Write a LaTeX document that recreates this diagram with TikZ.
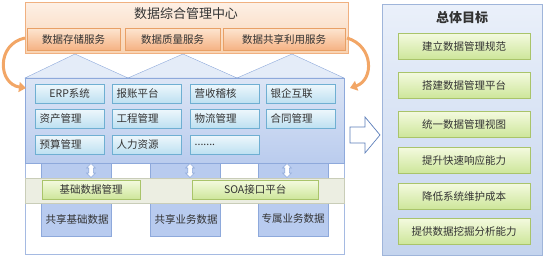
\documentclass[tikz,border=0pt]{standalone}
\usepackage{fontspec}
\setmainfont{Noto Sans CJK SC}
\usetikzlibrary{shadows,arrows.meta,shapes.arrows}
\definecolor{txt}{HTML}{333333}
\definecolor{topA}{HTML}{FDF0E6}
\definecolor{topB}{HTML}{F9D3B2}
\definecolor{topD}{HTML}{F0B080}
\definecolor{svA}{HTML}{FDE5D0}
\definecolor{svB}{HTML}{F5B283}
\definecolor{svD}{HTML}{E8A066}
\definecolor{roofF}{HTML}{E4ECF8}
\definecolor{blueD}{HTML}{8EA9DB}
\definecolor{mainA}{HTML}{DCE5F5}
\definecolor{mainB}{HTML}{BACCEE}
\definecolor{modA}{HTML}{EEF7FC}
\definecolor{modB}{HTML}{BDE0F1}
\definecolor{modD}{HTML}{6FAFD2}
\definecolor{colF}{HTML}{B8CBEF}
\definecolor{bandF}{HTML}{ECEEE2}
\definecolor{bandD}{HTML}{C9CDB8}
\definecolor{grA}{HTML}{F4FADF}
\definecolor{grB}{HTML}{CDE69A}
\definecolor{grD}{HTML}{A9C46A}
\definecolor{rpA}{HTML}{EAF0FA}
\definecolor{rpB}{HTML}{C4D4EE}
\definecolor{rpD}{HTML}{9FB5DA}
\definecolor{arrO}{HTML}{F2A666}
\definecolor{bigA}{HTML}{5B7DB9}
\begin{document}
\begin{tikzpicture}[x=1pt,y=-1pt,
  every node/.style={text=txt,font=\fontsize{10.5}{12}\selectfont},
  topbox/.style={draw=topD,top color=topA,bottom color=topB,anchor=north west,inner sep=0},
  service/.style={draw=svD,top color=svA,bottom color=svB,anchor=north west,minimum height=22,inner sep=0,drop shadow={shadow xshift=1pt,shadow yshift=-1pt,opacity=0.25}},
  module/.style={draw=modD,top color=modA,bottom color=modB,anchor=north west,minimum width=69,minimum height=19,inner sep=4.5,text width=60,align=left,drop shadow={shadow xshift=1pt,shadow yshift=-1pt,opacity=0.25}},
  colbox/.style={draw=blueD,fill=colF,anchor=north west,minimum width=70,minimum height=73,inner sep=0},
  greenbox/.style={draw=grD,top color=grA,bottom color=grB,anchor=north west,inner sep=0,drop shadow={shadow xshift=1pt,shadow yshift=-1pt,opacity=0.25}},
  updown/.style={double arrow,rotate=90,draw=blueD,fill=white,minimum height=14,inner sep=2,double arrow head extend=2.2,line width=0.6pt},
  curvarrow/.style={draw=arrO,line width=3pt,-{Triangle[width=10pt,length=7pt]}},
]
\useasboundingbox (0,0) rectangle (547,267);

% top data center
\node[topbox,minimum width=323,minimum height=51] (center) at (25,2) {};
\node[font=\fontsize{13}{15}\selectfont] (ctitle) at (186,14) {数据综合管理中心};
\node[service,minimum width=93] (s1) at (27,28) {数据存储服务};
\node[service,minimum width=95] (s2) at (125,28) {数据质量服务};
\node[service,minimum width=122] (s3) at (223,28) {数据共享利用服务};

% main frame
\draw[draw=blueD!80,fill=white] (25,78) rectangle (344,254);
\shade[top color=mainA,bottom color=mainB,draw=blueD] (25,78) rectangle (344,163);
\draw[draw=blueD,fill=roofF] (25,78) -- (75,54) -- (128,78) -- cycle;
\draw[draw=blueD,fill=roofF] (128,78) -- (183,54) -- (237,78) -- cycle;
\draw[draw=blueD,fill=roofF] (237,78) -- (292,54) -- (344,78) -- cycle;

% modules
\node[module,align=center] (m11) at (35,84) {ERP系统};
\node[module] (m12) at (112,84) {报账平台};
\node[module] (m13) at (190,84) {营收稽核};
\node[module] (m14) at (266,84) {银企互联};
\node[module] (m21) at (35,109) {资产管理};
\node[module] (m22) at (112,109) {工程管理};
\node[module] (m23) at (190,109) {物流管理};
\node[module] (m24) at (266,109) {合同管理};
\node[module] (m31) at (35,135) {预算管理};
\node[module] (m32) at (112,135) {人力资源};
\node[module] (m33) at (190,135) {.......};

% data columns
\node[colbox] (c1) at (41,163) {};
\node[colbox] (c2) at (150,163) {};
\node[colbox] (c3) at (258,163) {};
\node[updown] (u1) at (91,170.5) {};
\node[updown] (u2) at (190,170.5) {};
\node[updown] (u3) at (287,170.5) {};

% band
\node[draw=bandD,fill=bandF,anchor=north west,minimum width=319,minimum height=25,inner sep=0] (band) at (25,178) {};
\node[greenbox,minimum width=98,minimum height=19] (g1) at (42,180) {基础数据管理};
\node[greenbox,minimum width=126,minimum height=19] (g2) at (192,180) {SOA接口平台};

\node (t1) at (77,219) {共享基础数据};
\node (t2) at (186,219) {共享业务数据};
\node (t3) at (293,219) {专属业务数据};

% curved arrows
\coordinate (la) at (25,38);
\coordinate (lb) at (26,88);
\coordinate (ra) at (347,38);
\coordinate (rb) at (350,88);
\draw[curvarrow] (la) .. controls (-4,44) and (-2,84) .. (lb);
\draw[curvarrow] (ra) .. controls (374,46) and (374,80) .. (rb);

% big arrow
\draw[draw=bigA,fill=white,line width=0.7pt] (350,127) -- (365,127) -- (365,117) -- (380,135) -- (365,153) -- (365,143) -- (350,143) -- cycle;

% right panel
\node[draw=rpD,top color=rpA,bottom color=rpB,anchor=north west,minimum width=160,minimum height=251,inner sep=0,drop shadow={shadow xshift=1pt,shadow yshift=-1pt,opacity=0.2}] (goals) at (382,4) {};
\node[font=\fontsize{13}{15}\selectfont\bfseries] (gtitle) at (462,18) {总体目标};
\node[greenbox,minimum width=132,minimum height=26] (r1) at (398,33) {建立数据管理规范};
\node[greenbox,minimum width=132,minimum height=26] (r2) at (398,72) {搭建数据管理平台};
\node[greenbox,minimum width=132,minimum height=26] (r3) at (398,111) {统一数据管理视图};
\node[greenbox,minimum width=132,minimum height=26] (r4) at (398,147) {提升快速响应能力};
\node[greenbox,minimum width=132,minimum height=26] (r5) at (398,183) {降低系统维护成本};
\node[greenbox,minimum width=132,minimum height=26] (r6) at (398,218) {提供数据挖掘分析能力};
\end{tikzpicture}
\end{document}
